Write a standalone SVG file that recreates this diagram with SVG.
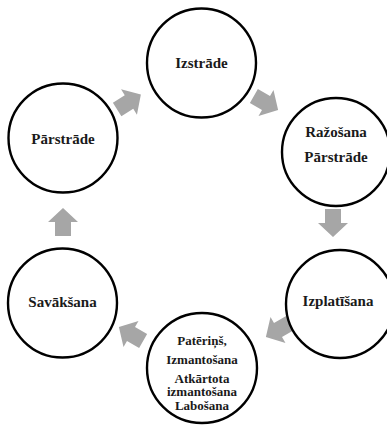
<svg xmlns="http://www.w3.org/2000/svg" width="387" height="434" viewBox="0 0 387 434">
  <style>
    .stage circle { fill: #ffffff; stroke: #000000; stroke-width: 2.4; }
    .stage text { font-family: "Liberation Serif", Tinos, "Times New Roman", "DejaVu Serif", serif; font-weight: 700; font-size: 15px; fill: #1a1a1a; text-anchor: middle; }
    .stage text.small { font-size: 13px; }
    .flow use { fill: #a6a6a6; }
  </style>
  <defs>
    <!-- block arrow pointing right, centred on the origin -->
    <path id="blockArrow" d="M-14,-8 H0 V-15 L14,0 L0,15 V8 H-14 Z"/>
  </defs>
  <rect width="387" height="434" fill="#ffffff"/>

  <g id="connectors" class="flow">
    <use href="#blockArrow" transform="translate(129,102) rotate(-32)"/>
    <use href="#blockArrow" transform="translate(266,103) rotate(30)"/>
    <use href="#blockArrow" transform="translate(333,223) rotate(90)"/>
    <use href="#blockArrow" transform="translate(278,330) rotate(150)"/>
    <use href="#blockArrow" transform="translate(131,334) rotate(-150)"/>
    <use href="#blockArrow" transform="translate(63,222) rotate(-90)"/>
  </g>

  <g id="izstrade" class="stage" font-family="Liberation Serif, serif">
    <circle cx="201.5" cy="63" r="54.5"/>
    <text x="201.5" y="68">Izstrāde</text>
  </g>

  <g id="razosana" class="stage" font-family="Liberation Serif, serif">
    <circle cx="336" cy="152" r="54"/>
    <text x="336" y="137">Ražošana</text>
    <text x="336" y="162">Pārstrāde</text>
  </g>

  <g id="izplatisana" class="stage" font-family="Liberation Serif, serif">
    <circle cx="340" cy="304" r="54"/>
    <text x="338" y="306">Izplatīšana</text>
  </g>

  <g id="paterins" class="stage" font-family="Liberation Serif, serif">
    <circle cx="202" cy="368" r="55"/>
    <text class="small" x="202" y="345">Patēriņš,</text>
    <text class="small" x="202" y="364">Izmantošana</text>
    <text class="small" x="202" y="382.5">Atkārtota</text>
    <text class="small" x="202" y="396">izmantošana</text>
    <text class="small" x="202" y="409.5">Labošana</text>
  </g>

  <g id="savaksana" class="stage" font-family="Liberation Serif, serif">
    <circle cx="62.5" cy="303" r="54.5"/>
    <text x="62.5" y="307">Savākšana</text>
  </g>

  <g id="parstrade" class="stage" font-family="Liberation Serif, serif">
    <circle cx="63" cy="138" r="54.5"/>
    <text x="63" y="144">Pārstrāde</text>
  </g>
</svg>
